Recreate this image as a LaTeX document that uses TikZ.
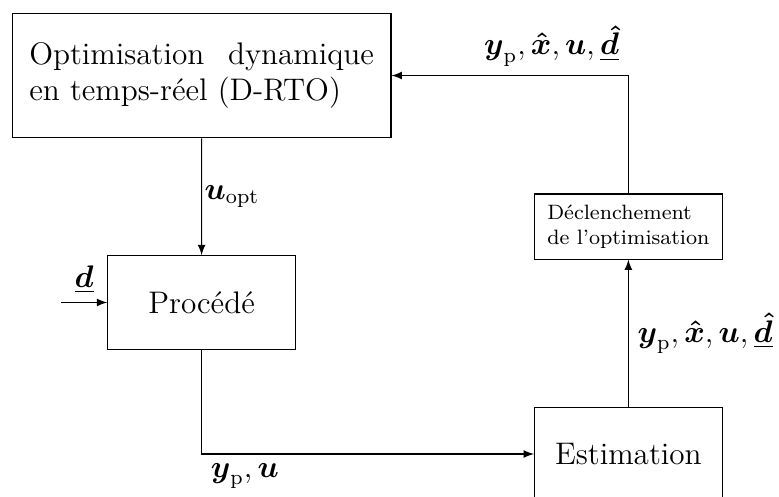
\documentclass[tikz,border=0pt]{standalone}
\usepackage{amssymb}
\usepackage{amsmath}
\usetikzlibrary{positioning,calc}

\begin{document}
\begin{tikzpicture}[font=\large, >=latex]

        % Block styles
        \tikzset{
            bloc/.style={draw, thin, minimum width=2.536cm, minimum height=1.265cm},
            petitbloc/.style={bloc, font=\footnotesize, align=left, minimum height=0.879cm}
        }

        \useasboundingbox (0, 0) rectangle (10.530, 6.705);

        % Blocks of the loop
        \begin{scope}
            \node[draw, thin, minimum width=5.119cm, minimum height=1.682cm,
                text width=4.66cm, align=justify, inner sep=0pt] (RTO) at (2.726, 5.684)
            {Optimisation dynamique en temps-r\'eel (D-RTO)};
            \node[bloc] (Proc) at (2.725, 2.616) {Proc\'ed\'e};
            \node[bloc] (Est) at (8.494, 0.568) {Estimation};
            \node[petitbloc] (Dec) at (8.494, 3.643)
            {D\'eclenchement\\de l'optimisation};

            \coordinate (dIn) at (0.825, 2.616);
        \end{scope}

        \begin{scope}[->]
            \draw (RTO) -- (Proc)
                node[midway, right, inner sep=1pt] {$\boldsymbol{u}_{\mathrm{opt}}$};
            \draw (dIn) -- (Proc)
                node[midway, above] {$\underline{\boldsymbol{d}}$};
            \draw (Proc.south) |- (Est.west)
                node[pos=0.5, below right] {$\boldsymbol{y}_{\mathrm{p}}, \boldsymbol{u}$};
            \draw (Est) -- (Dec)
                node[midway, right] {$\boldsymbol{y}_{\mathrm{p}}, \boldsymbol{\hat{x}}, \boldsymbol{u}, \underline{\boldsymbol{\hat{d}}}$};
            \draw (Dec.north) |- (RTO.east)
                node[pos=0.5, above left] {$\boldsymbol{y}_{\mathrm{p}}, \boldsymbol{\hat{x}}, \boldsymbol{u}, \underline{\boldsymbol{\hat{d}}}$};
        \end{scope}

\end{tikzpicture}
\end{document}
